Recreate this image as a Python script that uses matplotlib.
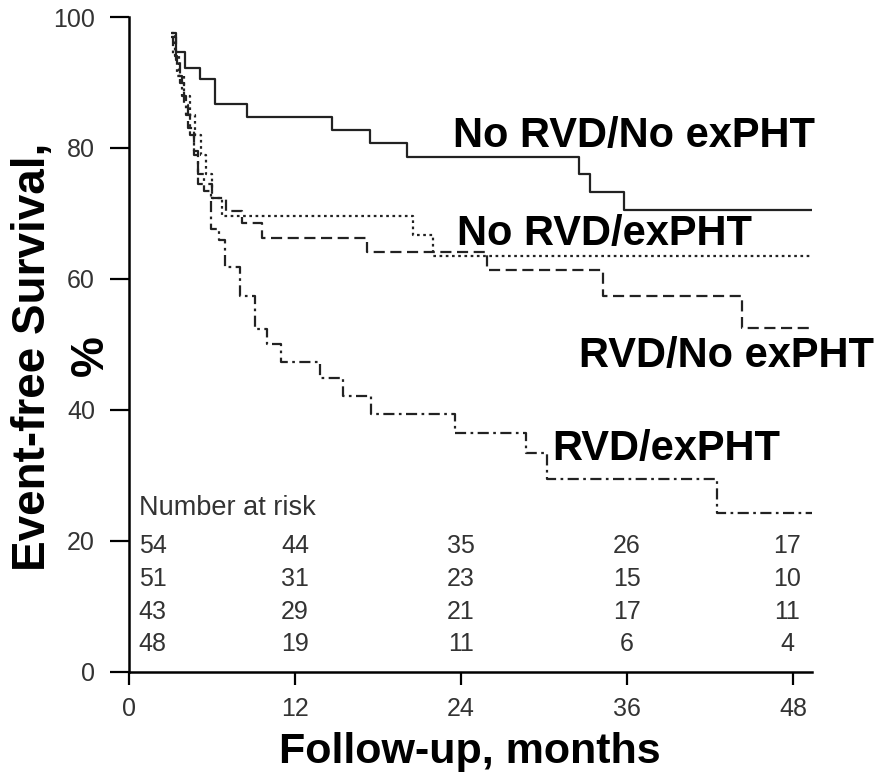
import matplotlib
matplotlib.use('Agg')
import matplotlib.pyplot as plt

plt.rcParams['font.family'] = ['Liberation Sans', 'DejaVu Sans']

# step curves: time of each step (months) and survival after the step (%)
t_norvd_nopht = [3.2, 3.4, 4.05, 5.13, 6.2, 8.5, 14.65, 17.4, 20.1, 32.5, 33.3, 35.8, 49.4]
s_norvd_nopht = [97.5, 94.6, 92.2, 90.5, 86.7, 84.8, 82.7, 80.7, 78.7, 76.1, 73.3, 70.6, 70.6]

t_norvd_pht = [3.0, 3.3, 3.6, 4.0, 4.4, 4.8, 5.2, 5.6, 6.0, 6.7, 20.5, 22.0, 49.4]
s_norvd_pht = [97.5, 94.0, 91.0, 88.0, 85.0, 82.0, 79.0, 76.0, 72.4, 69.6, 66.7, 63.5, 63.5]

t_rvd_nopht = [3.1, 3.4, 3.7, 4.0, 4.3, 4.7, 5.0, 6.0, 7.0, 8.2, 9.6, 17.2, 25.9, 34.3, 44.3, 49.4]
s_rvd_nopht = [97.0, 93.5, 90.0, 86.5, 83.0, 79.5, 74.5, 72.4, 70.4, 68.5, 66.3, 64.1, 61.4, 57.4, 52.5, 52.5]

t_rvd_pht = [3.0, 3.2, 3.5, 3.8, 4.1, 4.4, 4.7, 5.0, 5.4, 5.9, 6.5, 6.95, 8.0, 9.1, 9.95,
             11.0, 13.8, 15.5, 17.5, 23.6, 28.7, 30.2, 42.5, 49.4]
s_rvd_pht = [97.0, 94.0, 91.0, 88.0, 85.0, 82.0, 79.0, 76.0, 73.5, 67.6, 66.0, 61.8, 57.4, 52.3, 50.0,
             47.4, 44.9, 42.1, 39.4, 36.5, 33.4, 29.4, 24.3, 24.3]

curve_names = ['No RVD/No exPHT', 'No RVD/exPHT', 'RVD/No exPHT', 'RVD/exPHT']

risk_times = [1.7, 12, 24, 36, 47.6]
risk_rows = [[54, 44, 35, 26, 17],
             [51, 31, 23, 15, 10],
             [43, 29, 21, 17, 11],
             [48, 19, 11, 6, 4]]
risk_y = [19.3, 14.2, 9.1, 4.2]

fig = plt.figure(figsize=(8.77, 7.73), dpi=100)
ax = fig.add_axes([0.1471, 0.1307, 0.7788, 0.8473])

lc = '#222222'
ax.step(t_norvd_nopht, s_norvd_nopht, where='post', color=lc, lw=1.6, ls='-')
ax.step(t_norvd_pht, s_norvd_pht, where='post', color=lc, lw=1.6, ls=(0, (1.2, 1.6)))
ax.step(t_rvd_nopht, s_rvd_nopht, where='post', color=lc, lw=1.6, ls=(0, (5, 2.5)))
ax.step(t_rvd_pht, s_rvd_pht, where='post', color=lc, lw=1.6, ls=(0, (5, 2, 1.2, 2)))

# curve labels
lab_pos = [(23.4, 80.2), (23.7, 65.2), (32.5, 46.6), (30.6, 32.4)]
for name, (x, y) in zip(curve_names, lab_pos):
    ax.text(x, y, name, fontsize=30, fontweight='bold', ha='left', va='baseline', color='black')

# number at risk table
tc = '#333333'
ax.text(0.75, 25.0, 'Number at risk', fontsize=19.5, ha='left', va='center', color=tc)
for row, y in zip(risk_rows, risk_y):
    for n, x in zip(row, risk_times):
        ax.text(x, y, str(n), fontsize=18, ha='center', va='center', color=tc)

ax.set_xlim(0, 49.38)
ax.set_ylim(0, 100)
ax.set_xticks([0, 12, 24, 36, 48])
ax.set_yticks([0, 20, 40, 60, 80, 100])
ax.spines['top'].set_visible(False)
ax.spines['right'].set_visible(False)
ax.spines['left'].set_linewidth(1.8)
ax.spines['bottom'].set_linewidth(1.8)
ax.tick_params(axis='y', length=13.5, width=1.6, pad=11, labelsize=18, labelcolor=tc)
ax.tick_params(axis='x', length=9, width=1.6, pad=9, labelsize=18, labelcolor=tc)

fig.text(0.536, 0.013, 'Follow-up, months', fontsize=31, fontweight='bold',
         ha='center', va='baseline')
# y label in two lines, placed separately
fig.text(0.038, 0.538, 'Event-free Survival,', fontsize=33, fontweight='bold',
         rotation=90, ha='center', va='center')
fig.text(0.104, 0.54, '%', fontsize=33, fontweight='bold',
         rotation=90, ha='center', va='center')

fig.savefig('out.png', dpi=100)
